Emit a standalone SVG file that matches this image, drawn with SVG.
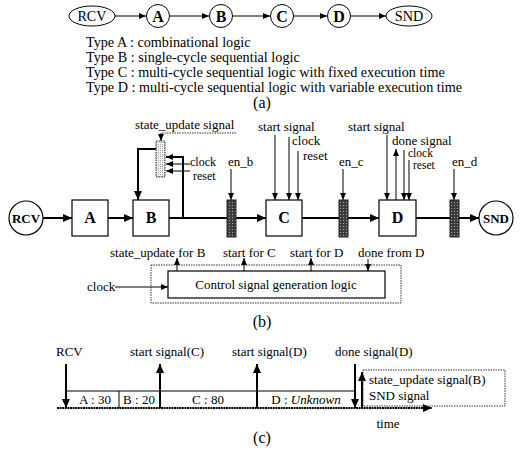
<svg xmlns="http://www.w3.org/2000/svg" width="524" height="451" viewBox="0 0 524 451">
<defs>
<style>
.t{font-family:"Liberation Serif","Times New Roman",serif;font-size:13px;fill:#000}
.ts{font-family:"Liberation Serif","Times New Roman",serif;font-size:12px;fill:#000}
.tl{font-family:"Liberation Serif","Times New Roman",serif;font-size:14.2px;fill:#000}
.tb{font-family:"Liberation Serif","Times New Roman",serif;font-size:16px;font-weight:bold;fill:#000}
.cap{font-family:"Liberation Serif","Times New Roman",serif;font-size:16px;fill:#000}
.mid{text-anchor:middle}
.ln{stroke:#000;stroke-width:1;fill:none}
.thk{stroke:#000;stroke-width:2;fill:none}
.box{fill:#fff;stroke:#000;stroke-width:1.2}
.dot{fill:none;stroke:#333;stroke-width:1;stroke-dasharray:1.5,1}
.en{fill:url(#hatch);stroke:#222;stroke-width:1}
.reg{fill:url(#light);stroke:#333;stroke-width:1;stroke-dasharray:1.5,1}
</style>
<pattern id="hatch" width="3" height="3" patternUnits="userSpaceOnUse">
<rect width="3" height="3" fill="#3c3c3c"/>
<rect x="1" y="1" width="1" height="1" fill="#a8a8a8"/>
</pattern>
<pattern id="light" width="2" height="2" patternUnits="userSpaceOnUse">
<rect width="2" height="2" fill="#f2f2f2"/>
<rect width="1" height="1" fill="#aaa"/>
</pattern>
<marker id="ah" markerUnits="userSpaceOnUse" markerWidth="8" markerHeight="6" refX="7" refY="3" orient="auto">
<path d="M0,0 L7,3 L0,6 z" fill="#000"/>
</marker>
<marker id="ahb" markerUnits="userSpaceOnUse" markerWidth="10" markerHeight="8" refX="9" refY="4" orient="auto">
<path d="M0,0 L9,4 L0,8 z" fill="#000"/>
</marker>
</defs>
<rect width="524" height="451" fill="#fff"/>

<!-- (a) -->
<g id="a-rcv"><ellipse cx="92" cy="16" rx="23" ry="10" class="ln"/><text x="92" y="21" class="tl mid">RCV</text></g>
<g id="a-A"><circle cx="158" cy="16" r="11.5" class="ln"/><text x="158" y="21.5" class="tb mid">A</text></g>
<g id="a-B"><circle cx="221" cy="16" r="11.5" class="ln"/><text x="221" y="21.5" class="tb mid">B</text></g>
<g id="a-C"><circle cx="282" cy="16" r="11.5" class="ln"/><text x="282" y="21.5" class="tb mid">C</text></g>
<g id="a-D"><circle cx="339" cy="16" r="11.5" class="ln"/><text x="339" y="21.5" class="tb mid">D</text></g>
<g id="a-SND"><ellipse cx="409" cy="16" rx="23" ry="10" class="ln"/><text x="409" y="21" class="tl mid">SND</text></g>
<g id="a-connectors">
<line x1="115" y1="16" x2="146" y2="16" class="ln" marker-end="url(#ah)"/>
<line x1="170" y1="16" x2="209" y2="16" class="ln" marker-end="url(#ah)"/>
<line x1="233" y1="16" x2="270" y2="16" class="ln" marker-end="url(#ah)"/>
<line x1="294" y1="16" x2="327" y2="16" class="ln" marker-end="url(#ah)"/>
<line x1="351" y1="16" x2="386" y2="16" class="ln" marker-end="url(#ah)"/>
</g>
<g id="a-legend">
<text x="86" y="47" class="tl">Type A : combinational logic</text>
<text x="86" y="62" class="tl">Type B : single-cycle sequential logic</text>
<text x="86" y="77" class="tl">Type C : multi-cycle sequential logic with fixed execution time</text>
<text x="86" y="92" class="tl">Type D : multi-cycle sequential logic with variable execution time</text>
<text x="262" y="108" class="cap mid">(a)</text>
</g>

<!-- (b) -->
<g id="b-connectors">
<line x1="43" y1="218" x2="72" y2="218" class="thk" marker-end="url(#ahb)"/>
<line x1="108" y1="218" x2="133" y2="218" class="thk" marker-end="url(#ahb)"/>
<line x1="169" y1="218" x2="266" y2="218" class="thk" marker-end="url(#ahb)"/>
<line x1="302" y1="218" x2="379" y2="218" class="thk" marker-end="url(#ahb)"/>
<line x1="416" y1="218" x2="479" y2="218" class="thk" marker-end="url(#ahb)"/>
<path d="M156,149 H138 V200" class="thk" marker-end="url(#ahb)"/>
<path d="M183,218 V157 H166" class="thk" marker-end="url(#ah)"/>
<path d="M190,164 H166" class="ln" marker-end="url(#ah)"/>
<path d="M190,171 H166" class="ln" marker-end="url(#ah)"/>
<path d="M236,133 H161" class="dot"/>
<line x1="161" y1="133" x2="161" y2="141" class="ln" marker-end="url(#ah)"/>
<line x1="231" y1="169" x2="231" y2="200" class="ln" marker-end="url(#ah)"/>
<line x1="275" y1="135" x2="275" y2="200" class="ln" marker-end="url(#ah)"/>
<line x1="289" y1="137" x2="289" y2="200" class="ln" marker-end="url(#ah)"/>
<line x1="298" y1="151" x2="298" y2="200" class="ln" marker-end="url(#ah)"/>
<line x1="343" y1="169" x2="343" y2="200" class="ln" marker-end="url(#ah)"/>
<line x1="387" y1="135" x2="387" y2="200" class="ln" marker-end="url(#ah)"/>
<line x1="396" y1="200" x2="396" y2="149" class="ln" marker-end="url(#ah)"/>
<line x1="404" y1="150" x2="404" y2="200" class="ln" marker-end="url(#ah)"/>
<line x1="409" y1="160" x2="409" y2="200" class="ln" marker-end="url(#ah)"/>
<line x1="454" y1="169" x2="454" y2="200" class="ln" marker-end="url(#ah)"/>
<line x1="177" y1="271" x2="177" y2="258" class="ln" marker-end="url(#ah)"/>
<line x1="244" y1="271" x2="244" y2="258" class="ln" marker-end="url(#ah)"/>
<line x1="311" y1="271" x2="311" y2="258" class="ln" marker-end="url(#ah)"/>
<line x1="368" y1="259" x2="368" y2="271" class="ln" marker-end="url(#ah)"/>
<line x1="115" y1="287" x2="168" y2="287" class="ln" marker-end="url(#ah)"/>
</g>
<g id="b-rcv"><circle cx="26" cy="218" r="17" class="box"/><text x="26" y="223" class="t mid" style="font-weight:bold">RCV</text></g>
<g id="b-A"><rect x="72" y="200" width="36" height="36" class="box"/><text x="90" y="223" class="tb mid">A</text></g>
<g id="b-B"><rect x="133" y="200" width="36" height="36" class="box"/><text x="151" y="223" class="tb mid">B</text></g>
<g id="b-reg"><rect x="156" y="141" width="9" height="36" class="reg"/></g>
<g id="b-C"><rect x="266" y="200" width="36" height="36" class="box"/><text x="284" y="223" class="tb mid">C</text></g>
<g id="b-D"><rect x="379" y="200" width="37" height="36" class="box"/><text x="397.5" y="223" class="tb mid">D</text></g>
<g id="b-SND"><circle cx="496" cy="218" r="17" class="box"/><text x="496" y="223" class="t mid" style="font-weight:bold">SND</text></g>
<g id="b-enb"><rect x="227" y="200" width="9" height="37" class="en"/><text x="228" y="166" class="t">en_b</text></g>
<g id="b-enc"><rect x="339" y="200" width="9" height="37" class="en"/><text x="339" y="166" class="t">en_c</text></g>
<g id="b-end"><rect x="450" y="200" width="9" height="37" class="en"/><text x="452" y="166" class="t">en_d</text></g>
<g id="b-labels">
<text x="135" y="129" class="t">state_update signal</text>
<text x="190" y="166" class="ts">clock</text>
<text x="193" y="180" class="ts">reset</text>
<text x="258" y="131" class="t">start signal</text>
<text x="292" y="145" class="t">clock</text>
<text x="303" y="160" class="t">reset</text>
<text x="348" y="131" class="t">start signal</text>
<text x="392" y="145" class="t">done signal</text>
<text x="408" y="157" class="ts" style="font-size:11.5px">clock</text>
<text x="413" y="169" class="ts" style="font-size:11.5px">reset</text>
</g>
<g id="b-ctrl">
<rect x="151" y="265" width="250" height="38" class="dot"/>
<rect x="168" y="271" width="217" height="27" class="box"/>
<text x="276" y="289" class="t mid">Control signal generation logic</text>
<text x="87" y="291" class="t">clock</text>
<text x="110" y="257" class="t">state_update for B</text>
<text x="223" y="257" class="t">start for C</text>
<text x="290" y="257" class="t">start for D</text>
<text x="358" y="257" class="t">done from D</text>
</g>
<text x="262" y="327" class="cap mid">(b)</text>

<!-- (c) -->
<g id="c-connectors">
<line x1="66" y1="391" x2="355" y2="391" class="ln"/>
<line x1="57" y1="408" x2="432" y2="408" class="thk" style="stroke-dasharray:2,0.6" marker-end="url(#ahb)"/>
<line x1="119" y1="391" x2="119" y2="408" class="ln"/>
<line x1="66" y1="364" x2="66" y2="408" class="thk" marker-end="url(#ahb)"/>
<line x1="160" y1="408" x2="160" y2="364" class="thk" marker-end="url(#ahb)"/>
<line x1="257" y1="408" x2="257" y2="364" class="thk" marker-end="url(#ahb)"/>
<line x1="355" y1="364" x2="355" y2="408" class="thk" marker-end="url(#ahb)"/>
<line x1="362" y1="408" x2="362" y2="372" class="thk" marker-end="url(#ahb)"/>
</g>
<g id="c-box"><rect x="363" y="370" width="142" height="36" class="dot"/>
<text x="369" y="384" class="t">state_update signal(B)</text>
<text x="369" y="400" class="t">SND signal</text></g>
<g id="c-labels">
<text x="56" y="356" class="t">RCV</text>
<text x="130" y="356" class="t">start signal(C)</text>
<text x="232" y="356" class="t">start signal(D)</text>
<text x="335" y="356" class="t">done signal(D)</text>
<text x="95" y="404" class="t mid">A : 30</text>
<text x="139" y="404" class="t mid">B : 20</text>
<text x="208" y="404" class="t mid">C : 80</text>
<text x="306" y="404" class="t mid">D : <tspan style="font-style:italic">Unknown</tspan></text>
<text x="388" y="428" class="t mid">time</text>
<text x="262" y="443" class="cap mid">(c)</text>
</g>
</svg>
